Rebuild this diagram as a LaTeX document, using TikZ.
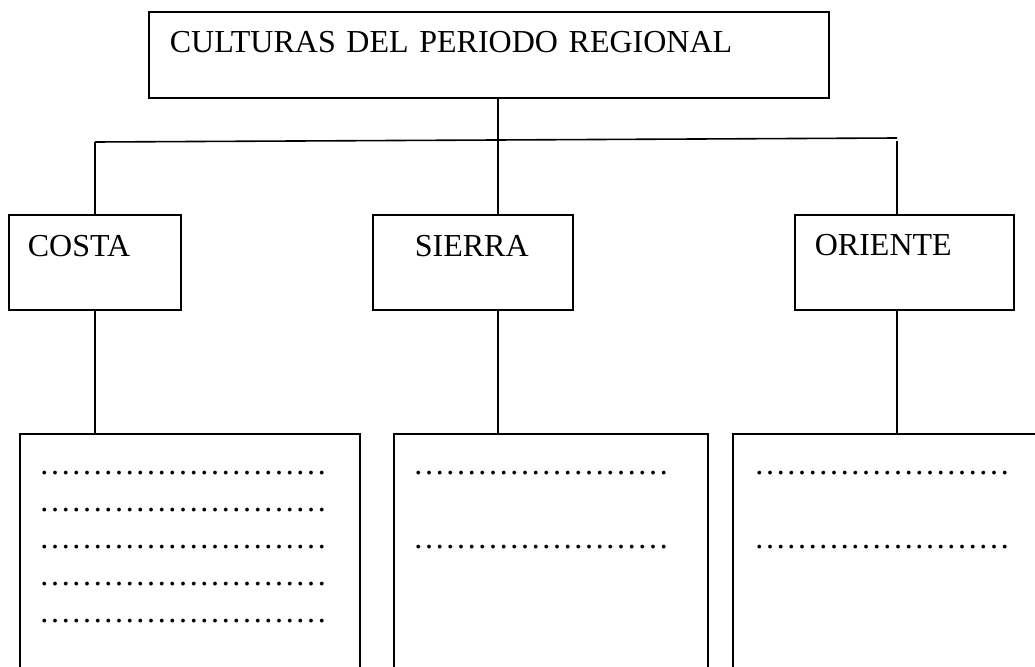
\documentclass[tikz,border=0pt]{standalone}
\usepackage{fontspec}
\setmainfont{Liberation Serif}
\usepackage{tikz}

\tikzset{
  caja/.style={draw,line width=1.7pt,inner ysep=0pt,align=left,anchor=north west,font=\fontsize{32}{37}\selectfont},
  hoja/.style={draw,line width=1.7pt,anchor=north west,minimum height=300pt},
  puntos/.style={anchor=base west,inner sep=0pt,font=\fontsize{32}{37}\selectfont},
  enlace/.style={line width=1.6pt}
}

\begin{document}
\begin{tikzpicture}[x=1pt,y=-1pt]
  \useasboundingbox (0,0) rectangle (1035,666);
  \clip (0,0) rectangle (1035,666);

  \node[caja,text width=638pt,inner xsep=21pt,text height=41pt,text depth=45pt] (periodo) at (148,11) {CULTURAS DEL PERIODO REGIONAL};

  \node[caja,text width=134pt,inner xsep=19pt,text height=42pt,text depth=53pt] (costa) at (8,214) {COSTA};
  \node[caja,text width=116pt,inner xsep=42pt,text height=42pt,text depth=53pt] (sierra) at (372,214) {SIERRA};
  \node[caja,text width=179pt,inner xsep=20pt,text height=41pt,text depth=54pt] (oriente) at (794,214) {ORIENTE};

  \node[hoja,minimum width=340pt] (costabaja) at (19,433) {};
  \node[hoja,minimum width=314pt] (sierrabaja) at (393,433) {};
  \node[hoja,minimum width=330pt] (orientebaja) at (732,433) {};

  % lineas de puntos
  \foreach \i in {0,...,4}
    \node[puntos] at ([xshift=20pt,yshift={-(41+37*\i)*1pt}]costabaja.north west) {………………………};
  \foreach \i in {0,2} {
    \node[puntos] at ([xshift=20pt,yshift={-(41+37*\i)*1pt}]sierrabaja.north west) {……………………};
    \node[puntos] at ([xshift=22pt,yshift={-(41+37*\i)*1pt}]orientebaja.north west) {……………………};
  }

  % conectores
  \coordinate (ramaIzq) at (95,142);
  \coordinate (ramaCen) at (498,140);
  \coordinate (ramaDer) at (897,138);

  \draw[enlace] (ramaIzq) -- (ramaDer);
  \draw[enlace] (ramaCen |- periodo.south) -- (ramaCen |- sierra.north);
  \draw[enlace] (ramaIzq) -- (ramaIzq |- costa.north);
  \draw[enlace] ([yshift=-3pt]ramaDer) -- (ramaDer |- oriente.north);

  \draw[enlace] (ramaIzq |- costa.south) -- (ramaIzq |- costabaja.north);
  \draw[enlace] (ramaCen |- sierra.south) -- (ramaCen |- sierrabaja.north);
  \draw[enlace] (ramaDer |- oriente.south) -- (ramaDer |- orientebaja.north);
\end{tikzpicture}
\end{document}
